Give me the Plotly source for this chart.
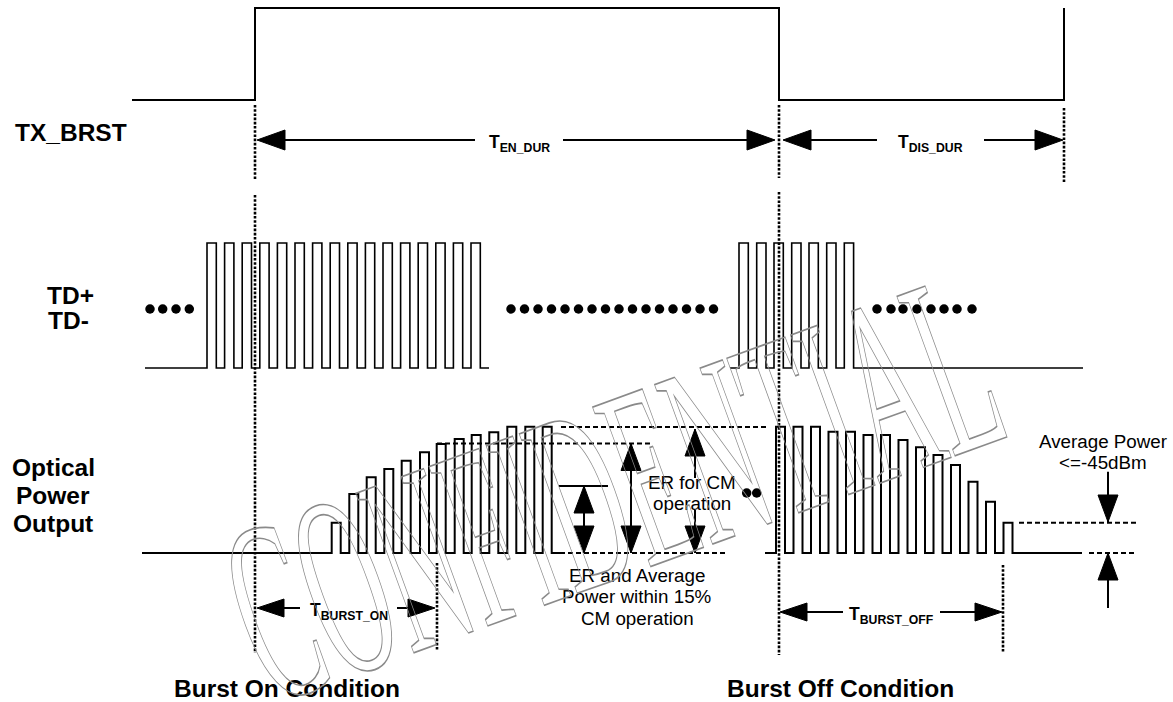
import plotly.graph_objects as go

# ---------------- data (diagram units = pixels of the 1173x702 canvas) ----------------
W, H = 1173, 702

# TX_BRST enable signal
TX_START_X = 132
TX_EDGES_X = [255, 779, 1064]
TX_LOW_Y, TX_HIGH_Y = 100, 8

# TD+/TD- data bursts: rising-edge positions
TD_LOW_Y, TD_HIGH_Y = 368, 243
TD_PULSE_W = 9.3
TD_LEFT_START, TD_LEFT_END = 145, 489
TD_LEFT_RISES = [207, 224.6, 242.2, 259.8, 277.4, 295, 312.6, 330.2, 347.8, 365.4,
                 383, 400.6, 418.2, 435.8, 453.4, 471]
TD_RIGHT_START, TD_RIGHT_END = 730, 1083
TD_RIGHT_RISES = [739, 756.7, 774, 791.7, 809, 826.7, 844.3]

# continuation dots in the TD row
TD_DOTS_Y = 309
TD_DOTS_X = [150, 162.7, 176, 189.3,
             511, 524.5, 538, 551.5, 565, 578.5, 592, 605.5, 619, 632.5, 646, 659.5,
             673, 686.5, 700, 713.5,
             877, 891, 903, 917, 931, 944, 957, 972]

# Optical power output pulses (rise position, pulse top level)
OPT_BASE_Y = 553
OPT_PULSE_W = 9
OPT_LEFT_START, OPT_LEFT_END = 142, 560
OPT_LEFT_RISES = [331.7, 349.3, 366.7, 384.3, 401.7, 420, 436.7, 454.7, 471.7, 489.3,
                  507.3, 525.3, 542.7]
OPT_LEFT_TOPS = [522.7, 494, 477.3, 469, 460.7, 452.3, 444, 439, 435, 432.3,
                 426.7, 426.7, 426.7]
OPT_RIGHT_START, OPT_RIGHT_END = 765, 1082
OPT_RIGHT_RISES = [776, 793.5, 811, 828.5, 846, 863.5, 881, 898.5, 916, 933.5,
                   951, 968.5, 986, 1003.5]
OPT_RIGHT_TOPS = [426.7, 426.7, 426.7, 431.7, 431.7, 435, 435, 440, 447.3, 455,
                  465, 481.7, 501.7, 522.7]
OPT_DOTS_X = [746.7, 756.7]
OPT_DOTS_Y = 493

# dotted timing markers (x, y_top, y_bottom)
MARKERS = [(255, 105, 180), (255, 195, 653), (779, 105, 178), (779, 192, 655),
           (1064, 108, 182), (437, 563, 650), (1003, 565, 652)]

# dashed reference levels (x0, x1, y)
LEVELS = [(561, 767, 427), (437, 652, 443.5), (560, 728, 553),
          (1019, 1136, 522.7), (1089, 1136, 553)]

# horizontal dimension arrows (left tip, right tip, y, gap start, gap end, subscript)
DIMS = [(257, 775, 140, 475, 563, "EN_DUR"),
        (783, 1063, 140, 877, 984, "DIS_DUR"),
        (257, 435, 608, 300, 397, "BURST_ON"),
        (780, 1002, 612, 843, 940, "BURST_OFF")]

# vertical arrows in the optical row
UP_HEADS = [(584, 486), (631, 443.5), (695, 429), (1108, 553)]
DOWN_HEADS = [(584, 553), (631, 553), (695, 553), (1108, 522)]
V_SEGS = [(584, 486, 553), (631, 443.5, 553), (695, 429, 478), (695, 510, 553),
          (1108, 471.7, 522), (1108, 553, 608)]
SHORT_LINE = (559, 608, 486)

# text
ROW_LABELS = [("TX_BRST", 71, 132), ("TD+", 70, 295), ("TD-", 68, 320),
              ("Optical", 53, 467), ("Power", 53, 495), ("Output", 53, 523)]
BOTTOM_LABELS = [("Burst On Condition", 287, 688), ("Burst Off Condition", 840, 688)]
NOTES = [("ER for CM", 692, 482), ("operation", 692, 503.5),
         ("ER and Average", 637, 575), ("Power within 15%", 637, 596.7),
         ("CM operation", 637, 618.3),
         ("Average Power", 1103, 441), ("<=-45dBm", 1103, 462)]
WATERMARK = ("CONFIDENTIAL", 612, 487)

# ---------------- style ----------------
BLACK = "#000000"
SANS = "Liberation Sans, Arial, sans-serif"


def pulse_path(start, end, rises, width, low, highs):
    xs, ys = [start], [low]
    for r, h in zip(rises, highs):
        xs += [r, r, r + width, r + width]
        ys += [low, h, h, low]
    xs.append(end)
    ys.append(low)
    return xs, ys


fig = go.Figure()


def add_line(xs, ys, width=2, dash="solid"):
    fig.add_trace(go.Scatter(x=xs, y=ys, mode="lines", hoverinfo="skip",
                             line=dict(color=BLACK, width=width, dash=dash),
                             showlegend=False))


# TX_BRST
tx_x, tx_y = [TX_START_X], [TX_LOW_Y]
level = TX_LOW_Y
for e in TX_EDGES_X:
    nxt = TX_HIGH_Y if level == TX_LOW_Y else TX_LOW_Y
    tx_x += [e, e]
    tx_y += [level, nxt]
    level = nxt
add_line(tx_x, tx_y, 2)

# TD bursts
for s, e, rises in [(TD_LEFT_START, TD_LEFT_END, TD_LEFT_RISES),
                    (TD_RIGHT_START, TD_RIGHT_END, TD_RIGHT_RISES)]:
    xs, ys = pulse_path(s, e, rises, TD_PULSE_W, TD_LOW_Y, [TD_HIGH_Y] * len(rises))
    add_line(xs, ys, 1.6)

# optical bursts
for s, e, rises, tops in [(OPT_LEFT_START, OPT_LEFT_END, OPT_LEFT_RISES, OPT_LEFT_TOPS),
                          (OPT_RIGHT_START, OPT_RIGHT_END, OPT_RIGHT_RISES, OPT_RIGHT_TOPS)]:
    xs, ys = pulse_path(s, e, rises, OPT_PULSE_W, OPT_BASE_Y, tops)
    add_line(xs, ys, 2)

# dashed reference levels
lx, ly = [], []
for x0, x1, y in LEVELS:
    lx += [x0, x1, None]
    ly += [y, y, None]
add_line(lx, ly, 2, "5px,3px")

# dotted markers
mx, my = [], []
for x, y0, y1 in MARKERS:
    mx += [x, x, None]
    my += [y0, y1, None]
add_line(mx, my, 2.6, "2.6px,1.6px")

# dimension arrow shafts + heads
sx, sy = [], []
hx, hy = [], []
for xl, xr, y, g0, g1, _ in DIMS:
    L, hw = (28, 10) if y < 300 else (27, 9)
    sx += [xl + 5, g0, None, g1, xr - 5, None]
    sy += [y, y, None, y, y, None]
    hx += [xl, xl + L, xl + L, xl, None, xr, xr - L, xr - L, xr, None]
    hy += [y, y - hw, y + hw, y, None, y, y - hw, y + hw, y, None]
for x, y0, y1 in V_SEGS:
    sx += [x, x, None]
    sy += [y0, y1, None]
sx += [SHORT_LINE[0], SHORT_LINE[1], None]
sy += [SHORT_LINE[2], SHORT_LINE[2], None]
for x, y in UP_HEADS:
    hx += [x, x - 10, x + 10, x, None]
    hy += [y, y + 27, y + 27, y, None]
for x, y in DOWN_HEADS:
    hx += [x, x - 10, x + 10, x, None]
    hy += [y, y - 27, y - 27, y, None]
add_line(sx, sy, 2)
fig.add_trace(go.Scatter(x=hx, y=hy, mode="lines", fill="toself", fillcolor=BLACK,
                         line=dict(color=BLACK, width=1), hoverinfo="skip",
                         showlegend=False))

# dots
fig.add_trace(go.Scatter(x=TD_DOTS_X + OPT_DOTS_X,
                         y=[TD_DOTS_Y] * len(TD_DOTS_X) + [OPT_DOTS_Y] * len(OPT_DOTS_X),
                         mode="markers", hoverinfo="skip", showlegend=False,
                         marker=dict(color=BLACK, size=9.5, line=dict(width=0))))

# annotations
ann = []
for t, x, y in ROW_LABELS + BOTTOM_LABELS:
    ann.append(dict(x=x, y=y, text=f"<b>{t}</b>", showarrow=False, xanchor="center",
                    yanchor="middle", font=dict(family=SANS, size=24.5, color=BLACK)))
for t, x, y in NOTES:
    ann.append(dict(x=x, y=y, text=t, showarrow=False, xanchor="center",
                    yanchor="middle", font=dict(family=SANS, size=18.8, color=BLACK)))
for xl, xr, y, g0, g1, sub in DIMS:
    ann.append(dict(x=(g0 + g1) / 2, y=y + 3, text=f"<b>T<sub>{sub}</sub></b>",
                    showarrow=False, xanchor="center", yanchor="middle",
                    font=dict(family=SANS, size=17.5, color=BLACK)))
ann.append(dict(x=WATERMARK[1], y=WATERMARK[2], text=WATERMARK[0], showarrow=False,
                xanchor="center", yanchor="middle",
                font=dict(family="Liberation Serif, Times New Roman, serif", size=108,
                          color="rgba(150,150,150,0.35)")))

fig.update_layout(
    width=W, height=H, margin=dict(l=0, r=0, t=0, b=0),
    paper_bgcolor="white", plot_bgcolor="white", showlegend=False,
    xaxis=dict(range=[0, W], visible=False, fixedrange=True),
    yaxis=dict(range=[H, 0], visible=False, fixedrange=True),
    annotations=ann,
)

post = """
document.body.style.margin = '0';
document.body.style.padding = '0';
var gd = document.getElementById('{plot_id}');
gd.querySelectorAll('.annotation text').forEach(function(t){
  if (t.textContent === 'CONFIDENTIAL') {
    var bb = t.getBBox();
    var cx = bb.x + bb.width/2, cy = bb.y + bb.height/2;
    t.setAttribute('transform', 'rotate(-20 ' + cx + ' ' + cy + ') translate(' + cx + ' ' + cy + ') scale(1 2.4) translate(' + (-cx) + ' ' + (-cy) + ')');
    t.style.fill = 'none';
    t.style.stroke = '#8a8a8a';
    t.style.strokeWidth = '0.7px';
  }
});
"""

fig.write_html("out.html", post_script=post, config={"displayModeBar": False})
